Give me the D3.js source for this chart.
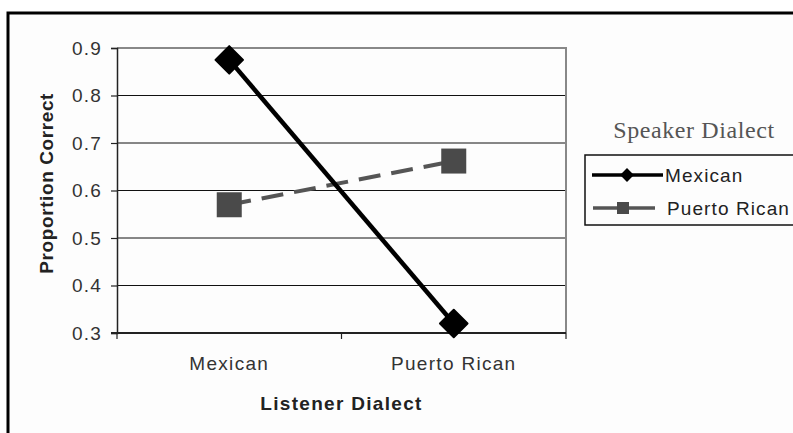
<!DOCTYPE html>
<html>
<head>
<meta charset="utf-8">
<script src="https://cdn.jsdelivr.net/npm/d3@7"></script>
<style>
  body { margin: 0; background: #fff; }
  svg { display: block; }
</style>
</head>
<body>
<div id="chart"></div>
<script>
// Data
const listeners = ["Mexican", "Puerto Rican"];
const seriesNames = ["Mexican", "Puerto Rican"];
const mexicanValues = [0.875, 0.32];
const puertoRicanValues = [0.57, 0.662];
const yTicks = [0.3, 0.4, 0.5, 0.6, 0.7, 0.8, 0.9];

const W = 793, H = 433;
const margin = {top: 48, right: 227, bottom: 100, left: 117};
const width = W - margin.left - margin.right;
const height = H - margin.top - margin.bottom;
const sans = "Liberation Sans, Arial, sans-serif";

const svg = d3.select("#chart").append("svg")
    .attr("width", W)
    .attr("height", H);

// outer frame
svg.append("rect")
    .attr("x", 8).attr("y", 13)
    .attr("width", W).attr("height", H)
    .attr("fill", "#fdfdfd")
    .attr("stroke", "#000")
    .attr("stroke-width", 3);

const g = svg.append("g")
    .attr("transform", `translate(${margin.left},${margin.top})`);

const x = d3.scaleBand().domain(listeners).range([0, width]);
const y = d3.scaleLinear().domain([0.3, 0.9]).range([height, 0]);

// gridlines
g.selectAll("line.grid")
    .data(yTicks.slice(1, -1))
    .join("line")
    .attr("class", "grid")
    .attr("x1", 0).attr("x2", width)
    .attr("y1", d => y(d)).attr("y2", d => y(d))
    .attr("stroke", "#111").attr("stroke-width", 1);

// plot area border top/right (grey)
g.append("path")
    .attr("d", `M0,${y(0.9)}H${width}V${height}`)
    .attr("fill", "none")
    .attr("stroke", "#888")
    .attr("stroke-width", 2);

// y axis
const yAxis = d3.axisLeft(y).tickValues(yTicks).tickSize(6).tickPadding(9)
    .tickFormat(d3.format(".1f"));
const yAxisG = g.append("g").call(yAxis);
yAxisG.select(".domain").attr("stroke", "#222").attr("stroke-width", 1.5);
yAxisG.selectAll(".tick line").attr("stroke", "#222").attr("stroke-width", 1.2);
yAxisG.selectAll("text")
    .attr("font-family", sans)
    .attr("font-size", 19).attr("letter-spacing", 1.2)
    .attr("fill", "#333");

// x axis
const xAxisG = g.append("g").attr("transform", `translate(0,${height})`);
xAxisG.append("line")
    .attr("x1", -6).attr("x2", width)
    .attr("stroke", "#222").attr("stroke-width", 2);
xAxisG.selectAll("line.tk")
    .data([0, x.step(), width])
    .join("line")
    .attr("class", "tk")
    .attr("x1", d => d).attr("x2", d => d)
    .attr("y1", 0).attr("y2", 6)
    .attr("stroke", "#222").attr("stroke-width", 1.2);
xAxisG.selectAll("text")
    .data(listeners)
    .join("text")
    .attr("x", d => x(d) + x.bandwidth() / 2)
    .attr("y", 37)
    .attr("text-anchor", "middle")
    .attr("font-family", sans)
    .attr("font-size", 19).attr("letter-spacing", 1.3)
    .attr("fill", "#333")
    .text(d => d);

// axis titles
g.append("text")
    .attr("x", width / 2).attr("y", height + 77)
    .attr("text-anchor", "middle")
    .attr("font-family", sans)
    .attr("font-weight", "bold")
    .attr("font-size", 19).attr("fill", "#222")
    .attr("letter-spacing", 1.3)
    .text("Listener Dialect");

g.append("text")
    .attr("transform", `translate(-64,${y(0.615)}) rotate(-90)`)
    .attr("text-anchor", "middle")
    .attr("font-family", sans)
    .attr("font-weight", "bold")
    .attr("font-size", 19).attr("fill", "#222")
    .attr("letter-spacing", 0.6)
    .text("Proportion Correct");

// series
const cx = d => x(d) + x.bandwidth() / 2;
const line = d3.line().x(d => cx(d[0])).y(d => y(d[1]));
const prData = listeners.map((l, i) => [l, puertoRicanValues[i]]);
const mxData = listeners.map((l, i) => [l, mexicanValues[i]]);

g.append("path").datum(prData)
    .attr("d", line)
    .attr("fill", "none")
    .attr("stroke", "#555")
    .attr("stroke-width", 4)
    .attr("stroke-dasharray", "22,11");
g.selectAll("rect.pr")
    .data(prData)
    .join("rect")
    .attr("class", "pr")
    .attr("x", d => cx(d[0]) - 12.5).attr("y", d => y(d[1]) - 12.5)
    .attr("width", 25).attr("height", 25)
    .attr("fill", "#4a4a4a");

g.append("path").datum(mxData)
    .attr("d", line)
    .attr("fill", "none")
    .attr("stroke", "#000")
    .attr("stroke-width", 4.5);
const diamond = d3.symbol().type(d3.symbolSquare).size(380);
g.selectAll("path.mx")
    .data(mxData)
    .join("path")
    .attr("class", "mx")
    .attr("d", diamond)
    .attr("transform", d => `translate(${cx(d[0])},${y(d[1])}) rotate(45)`)
    .attr("fill", "#000")
    .attr("stroke", "#000").attr("stroke-width", 2).attr("stroke-linejoin", "round");

// legend
svg.append("text")
    .attr("x", 694).attr("y", 138)
    .attr("text-anchor", "middle")
    .attr("font-family", "Liberation Serif, Times New Roman, serif")
    .attr("font-size", 24).attr("fill", "#555")
    .attr("letter-spacing", 0.6)
    .text("Speaker Dialect");

const legend = svg.append("g");
legend.append("rect")
    .attr("x", 585).attr("y", 155)
    .attr("width", 230).attr("height", 70)
    .attr("fill", "none")
    .attr("stroke", "#111").attr("stroke-width", 1.5);

const legendRows = [
  {name: seriesNames[0], y: 175, color: "#000", x1: 592, x2: 663, m: 627, shape: "diamond"},
  {name: seriesNames[1], y: 208, color: "#555", x1: 593, x2: 655, m: 623, shape: "square"}
];
legend.selectAll("line")
    .data(legendRows)
    .join("line")
    .attr("x1", d => d.x1).attr("x2", d => d.x2)
    .attr("y1", d => d.y).attr("y2", d => d.y)
    .attr("stroke", d => d.color).attr("stroke-width", 3.5);
legend.selectAll("path.mk")
    .data(legendRows)
    .join("path")
    .attr("class", "mk")
    .attr("d", d3.symbol().type(d3.symbolSquare).size(d => d.shape === "diamond" ? 95 : 144))
    .attr("transform", d => `translate(${d.m},${d.y})` + (d.shape === "diamond" ? " rotate(45)" : ""))
    .attr("fill", d => d.shape === "diamond" ? "#000" : "#4a4a4a");
legend.selectAll("text")
    .data(legendRows)
    .join("text")
    .attr("x", d => d.shape === "diamond" ? 665 : 667)
    .attr("y", d => d.y + 7)
    .attr("font-family", sans)
    .attr("font-size", 19).attr("letter-spacing", 1.1)
    .attr("fill", "#222")
    .text(d => d.name);
</script>
</body>
</html>
